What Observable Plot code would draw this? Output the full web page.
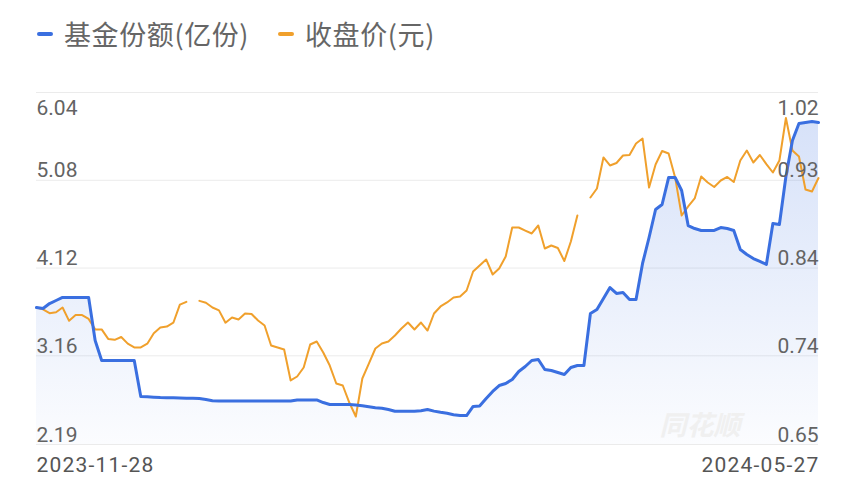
<!DOCTYPE html>
<html><head><meta charset="utf-8">
<script src="https://cdn.jsdelivr.net/npm/d3@7"></script>
<script src="https://cdn.jsdelivr.net/npm/@observablehq/plot@0.6"></script>
<style>
body{margin:0;background:#fff;width:855px;height:500px;overflow:hidden;font-family:"Noto Sans CJK SC",sans-serif;}
#legend{position:relative;height:70px;}
.item{position:absolute;top:17px;display:flex;align-items:center;font-size:27px;letter-spacing:0.6px;color:#666;line-height:34px;white-space:nowrap;}
.sw{display:inline-block;width:16px;height:4px;border-radius:2px;margin-right:11px;}
#chart svg{display:block;}
</style></head><body>
<div id="legend">
 <div class="item" style="left:37px"><span class="sw" style="background:#3a6fe0"></span>基金份额(亿份)</div>
 <div class="item" style="left:278px"><span class="sw" style="background:#f0a02c"></span>收盘价(元)</div>
</div>
<div id="chart"></div>
<script>
const dates = ["2023-11-28", "2024-05-27"];
const leftTicks = ["6.04", "5.08", "4.12", "3.16", "2.19"];
const rightTicks = ["1.02", "0.93", "0.84", "0.74", "0.65"];
// 基金份额(亿份)
const shares = [3.688,3.677,3.732,3.765,3.798,3.798,3.798,3.798,3.798,3.328,
 3.109,3.109,3.109,3.109,3.109,3.109,2.715,2.712,2.708,2.704,
 2.702,2.700,2.699,2.697,2.695,2.693,2.682,2.668,2.666,2.666,
 2.666,2.666,2.666,2.666,2.666,2.666,2.666,2.666,2.666,2.666,
 2.677,2.677,2.677,2.677,2.649,2.628,2.628,2.628,2.628,2.622,
 2.613,2.602,2.592,2.586,2.572,2.554,2.554,2.554,2.554,2.560,
 2.573,2.555,2.542,2.531,2.516,2.507,2.507,2.606,2.611,2.693,
 2.770,2.835,2.857,2.901,2.988,3.043,3.109,3.120,3.010,2.999,
 2.978,2.956,3.032,3.054,3.054,3.623,3.667,3.787,3.907,3.842,
 3.853,3.776,3.776,4.170,4.454,4.760,4.815,5.110,5.110,4.968,
 4.585,4.552,4.531,4.531,4.531,4.563,4.552,4.531,4.323,4.268,
 4.224,4.192,4.159,4.607,4.596,5.121,5.515,5.701,5.712,5.723,
 5.712];
// 收盘价(元)
const close = [0.794,0.792,0.788,0.789,0.794,0.780,0.786,0.786,0.782,0.771,
 0.771,0.761,0.760,0.763,0.756,0.752,0.752,0.756,0.767,0.773,
 0.774,0.778,0.797,0.800,null,0.801,0.799,0.794,0.791,0.778,
 0.7835,0.7814,0.7877,0.7872,0.7803,0.7751,0.7541,0.7520,0.7499,0.7173,
 0.7215,0.7309,0.7551,0.7583,0.7467,0.7330,0.7141,0.7120,0.6941,0.6794,
 0.7194,0.7351,0.7509,0.7562,0.7583,0.7646,0.7719,0.7782,0.7709,0.7782,
 0.7698,0.7877,0.7951,0.7993,0.8045,0.8056,0.8119,0.8318,0.8382,0.8445,
 0.8287,0.8350,0.8476,0.8781,0.8781,0.8749,0.8718,0.8802,0.8560,0.8592,
 0.8565,0.8429,0.8634,0.8907,null,0.9096,0.9191,0.9517,0.9433,0.9459,
 0.9538,0.9543,0.9664,0.9716,0.9201,0.9443,0.9585,0.9559,0.9307,0.8907,
 0.9002,0.9086,0.9317,0.9254,0.9207,0.9275,0.9312,0.9259,0.9485,0.9590,
 0.9464,0.9543,0.9448,0.9359,0.9485,0.9932,0.9590,0.9527,0.9180,0.9159,
 0.9301];

const L1 = +leftTicks[0], L0 = +leftTicks[leftTicks.length - 1];
const R1 = +rightTicks[0], R0 = +rightTicks[rightTicks.length - 1];
const toLeft = p => L0 + (p - R0) * (L1 - L0) / (R1 - R0);
const n = shares.length;
const rows = shares.map((s, i) => ({i, s, p: close[i] == null ? NaN : toLeft(close[i])}));
const gridVals = leftTicks.map(Number);
const tickFont = {fontFamily: "Roboto, sans-serif", fontSize: 21, fill: "#636363"};

const chart = Plot.plot({
  width: 855, height: 430,
  marginTop: 22, marginBottom: 56, marginLeft: 36, marginRight: 37,
  style: {fontFamily: "Roboto, sans-serif", background: "transparent"},
  x: {domain: [0, n - 1], axis: null},
  y: {domain: [L0, L1], axis: null},
  marks: [
    Plot.ruleY(gridVals, {stroke: "#ebebeb", strokeWidth: 1}),
    Plot.areaY(rows, {x: "i", y1: L0, y2: "s", fill: "url(#shareFill)"}),
    Plot.line(rows, {x: "i", y: "p", stroke: "#f0a02c", strokeWidth: 2}),
    Plot.line(rows, {x: "i", y: "s", stroke: "#3a6fe0", strokeWidth: 3}),
    Plot.text(["同花顺"], {frameAnchor: "bottom-right", dx: -78, dy: -10, fontSize: 27, fontStyle: "italic", fontWeight: "bold", fill: "#f0f0f0", fontFamily: "Noto Sans CJK SC"}),
    Plot.text(leftTicks.slice(0, 1), {x: 0, y: d => +d, text: d => d, textAnchor: "start", lineAnchor: "top", dy: 8, ...tickFont}),
    Plot.text(leftTicks.slice(1), {x: 0, y: d => +d, text: d => d, textAnchor: "start", lineAnchor: "bottom", dy: -3, ...tickFont}),
    Plot.text(rightTicks.slice(0, 1), {x: n - 1, y: (d, i) => gridVals[i], text: d => d, textAnchor: "end", lineAnchor: "top", dy: 8, ...tickFont}),
    Plot.text(rightTicks.slice(1), {x: n - 1, y: (d, i) => gridVals[i + 1], text: d => d, textAnchor: "end", lineAnchor: "bottom", dy: -3, ...tickFont}),
    Plot.text(dates.slice(0, 1), {x: 0, y: L0, text: d => d, textAnchor: "start", lineAnchor: "top", dy: 13, ...tickFont, fill: "#555"}),
    Plot.text(dates.slice(1), {x: n - 1, y: L0, text: d => d, textAnchor: "end", lineAnchor: "top", dy: 13, dx: 1, ...tickFont, fill: "#555"})
  ]
});
d3.select(chart).selectAll("text")
  .filter(function() { return dates.includes(this.textContent); })
  .attr("letter-spacing", 1.2);
const ns = "http://www.w3.org/2000/svg";
const defs = document.createElementNS(ns, "defs");
const grad = document.createElementNS(ns, "linearGradient");
grad.setAttribute("id", "shareFill");
grad.setAttribute("gradientUnits", "userSpaceOnUse");
grad.setAttribute("x1", 0); grad.setAttribute("x2", 0);
grad.setAttribute("y1", 22); grad.setAttribute("y2", 374);
[[0, 0.22], [1, 0.02]].forEach(([o, op]) => {
  const s = document.createElementNS(ns, "stop");
  s.setAttribute("offset", o);
  s.setAttribute("stop-color", "#3a6fe0");
  s.setAttribute("stop-opacity", op);
  grad.appendChild(s);
});
defs.appendChild(grad);
chart.insertBefore(defs, chart.firstChild);
document.getElementById("chart").appendChild(chart);
</script>
</body></html>
